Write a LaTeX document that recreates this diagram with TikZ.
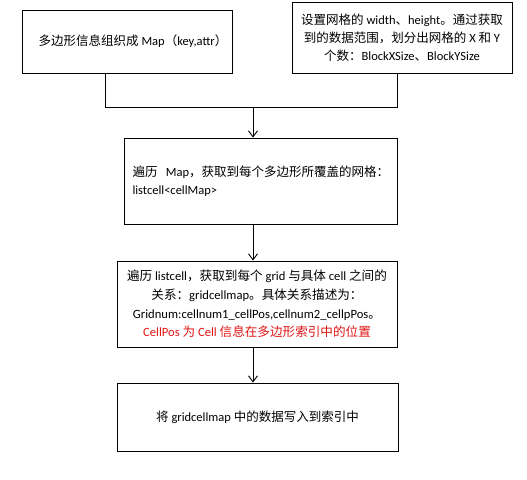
\documentclass[tikz,border=0pt]{standalone}
\usepackage{fontspec}
\setmainfont{Carlito}
\newfontfamily\cjk{Noto Sans CJK SC}
\newcommand\zh[1]{{\cjk #1}}
\usetikzlibrary{arrows.meta}
\definecolor{redtxt}{RGB}{225,20,20}
\tikzset{
  box/.style={draw=black, line width=0.9pt, rectangle, inner sep=0pt,
    font=\fontsize{12.5}{18}\selectfont},
  conn/.style={draw=black, line width=0.9pt},
  arr/.style={conn, -{Straight Barb[length=6pt,width=9pt,line width=0.9pt]}}
}
\begin{document}
\begin{tikzpicture}[x=1pt,y=-1pt]
\useasboundingbox (0,0) rectangle (527,479);
\node[box, minimum width=210pt, minimum height=63pt] (b1) at (127,41.5)
  {\hspace*{12pt}\zh{多边形信息组织成} Map\zh{（}key,attr\zh{）}};
\node[box, minimum width=220pt, minimum height=71pt, align=center] (b2) at (402,37.5)
  {\zh{设置网格的} width\zh{、}height\zh{。通过获取}\\
   \zh{到的数据范围，划分出网格的} X \zh{和} Y\\
   \zh{个数：}BlockXSize\zh{、}BlockYSize};
\node[box, minimum width=273pt, minimum height=86pt, text width=256pt, inner xsep=8.5pt, align=left] (b3) at (260.5,181)
  {\mbox{\zh{遍历} \ Map\zh{，获取到每个多边形所覆盖的网格：}}\\
   listcell<cellMap>};
\node[box, minimum width=280pt, minimum height=86pt, align=center,
  font=\fontsize{12.6}{18.7}\selectfont] (b4) at (257,304)
  {\zh{遍历} listcell\zh{，获取到每个} grid \zh{与具体} cell \zh{之间的}\\
   \zh{关系：}gridcellmap\zh{。具体关系描述为：}\\
   Gridnum:cellnum1\_cellPos,cellnum2\_cellpPos\zh{。}\\
   \textcolor{redtxt}{CellPos \zh{为} Cell \zh{信息在多边形索引中的位置}}};
\node[box, minimum width=281pt, minimum height=68pt] (b5) at (257.5,417)
  {\zh{将} gridcellmap \zh{中的数据写入到索引中}};
\coordinate (J) at (253,107);
\coordinate (p1) at (105,107);
\coordinate (p2) at (397,107);
\draw[conn] (b1.south -| p1) -- (p1) -- (p2) -- (b2.south -| p2);
\draw[arr] (J) -- (b3.north -| J);
\draw[arr] (b3.south -| J) -- (b4.north -| J);
\draw[arr] (b4.south -| J) -- (b5.north -| J);
\end{tikzpicture}
\end{document}
